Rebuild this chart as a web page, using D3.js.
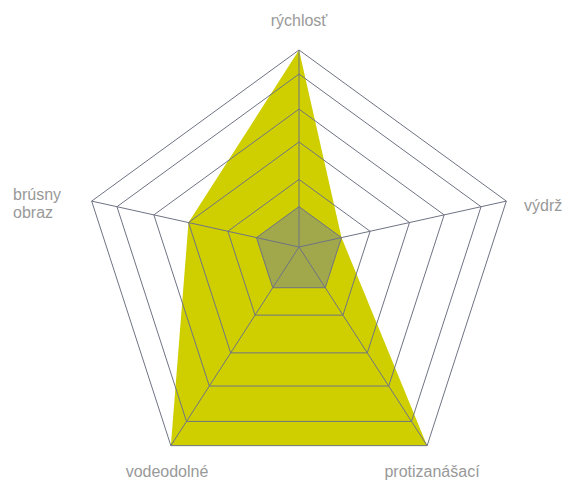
<!DOCTYPE html>
<html><head><meta charset="utf-8">
<script src="https://cdn.jsdelivr.net/npm/d3@7/dist/d3.min.js"></script>
<style>html,body{margin:0;padding:0;background:#fff;}svg{display:block;}</style>
</head><body>
<svg id="chart" width="565" height="480"></svg>
<script>
// ---- data ----
const categories = ["rýchlosť", "výdrž", "protizanášací", "vodeodolné", "brúsny obraz"];
const levels = [1, 2, 3, 4, 5, 6];
const productValues = [6, 1, 6, 6, 3];
const baseValues = [1, 1, 1, 1, 1];

// ---- layout ----
const svg = d3.select("#chart");
const cx = 299, cy = 268.7, Rx = 218, Ry = 218.7;   // outer pentagon
const apex = {x: 299, y: 247};                      // point where spokes meet
const angle = d3.scalePoint().domain(categories).range([0, 2 * Math.PI * 4 / 5]);
const r = d3.scaleLinear().domain([0, 1, 2, 3, 4, 5, 6])
  .range([0, 0.205, 0.343, 0.533, 0.70, 0.878, 1]);

function outer(c) { const a = angle(c); return {x: cx + Rx * Math.sin(a), y: cy - Ry * Math.cos(a)}; }
function pt(c, v) { const o = outer(c), f = r(v); return [apex.x + f * (o.x - apex.x), apex.y + f * (o.y - apex.y)]; }
const line = d3.line().curve(d3.curveLinearClosed);

// series
svg.append("path").attr("d", line(categories.map((c, i) => pt(c, productValues[i]))))
  .attr("fill", "#cfcf00");
svg.append("path").attr("d", line(categories.map((c, i) => pt(c, baseValues[i]))))
  .attr("fill", "#a1a74b");

// grid
const grid = svg.append("g").attr("fill", "none").attr("stroke", "#6f7483").attr("stroke-width", 1);
levels.forEach(l => grid.append("path").attr("d", line(categories.map(c => pt(c, l)))));
categories.forEach(c => {
  const o = outer(c);
  grid.append("line").attr("x1", apex.x).attr("y1", apex.y).attr("x2", o.x).attr("y2", o.y);
});

// labels
const lab = svg.append("g").attr("font-family", "Liberation Sans, Arial, sans-serif")
  .attr("font-size", 16).attr("fill", "#999999");
lab.append("text").attr("x", 299).attr("y", 26).attr("text-anchor", "middle").text(categories[0]);
lab.append("text").attr("x", 524).attr("y", 211).attr("text-anchor", "start").text(categories[1]);
lab.append("text").attr("x", 432).attr("y", 477).attr("text-anchor", "middle").text(categories[2]);
lab.append("text").attr("x", 167).attr("y", 477).attr("text-anchor", "middle").text(categories[3]);
const t = lab.append("text").attr("x", 13).attr("y", 200).attr("text-anchor", "start");
categories[4].split(" ").forEach((w, i) => t.append("tspan").attr("x", 13).attr("dy", i ? 18 : 0).text(w));
</script>
</body></html>
